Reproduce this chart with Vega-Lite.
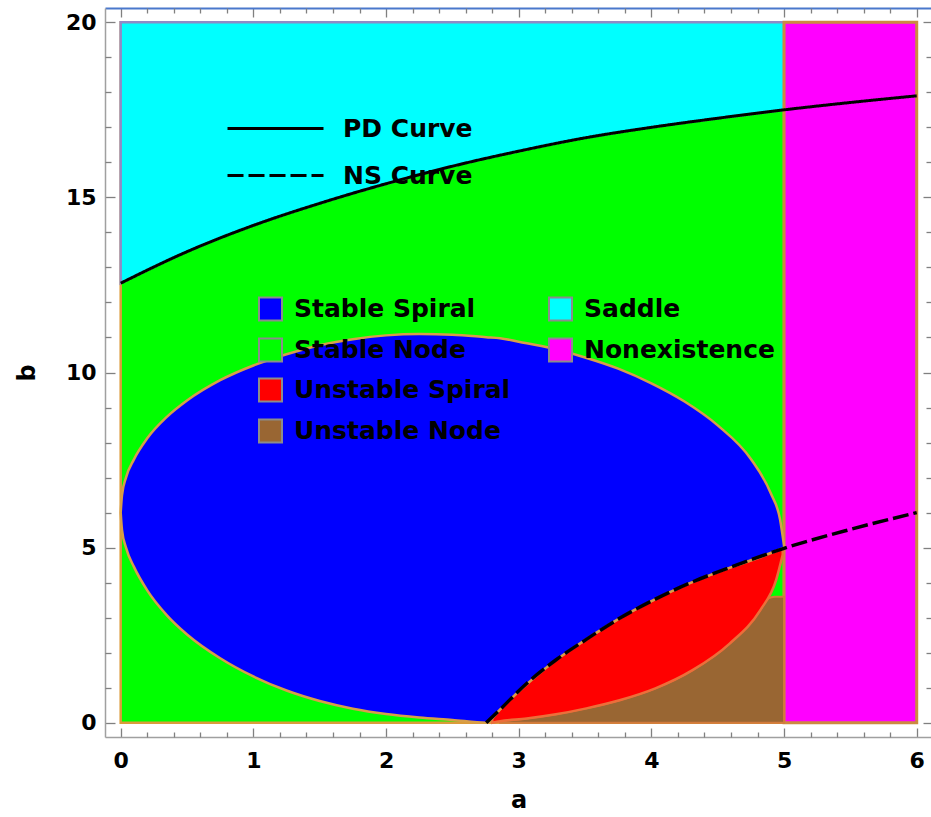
{
  "$schema": "https://vega.github.io/schema/vega-lite/v6.json",
  "width": 827,
  "height": 729,
  "autosize": {"type": "none"},
  "padding": {"left": 105, "top": 8, "right": 0, "bottom": 80},
  "background": "white",
  "config": {
    "view": {"stroke": null},
    "axis": {
      "grid": false,
      "labelFont": "DejaVu Sans",
      "labelFontWeight": "bold",
      "labelFontSize": 22,
      "labelColor": "black",
      "titleFont": "DejaVu Sans",
      "titleFontWeight": "bold",
      "titleFontSize": 24,
      "titleColor": "black",
      "tickColor": "#808080",
      "tickWidth": 1.3,
      "domainColor": "#a0a0a0",
      "domainWidth": 1.5
    },
    "legend": {
      "padding": 0,
      "labelFont": "DejaVu Sans",
      "labelFontWeight": "bold",
      "labelFontSize": 25,
      "labelColor": "black",
      "labelLimit": 400,
      "labelOffset": 11,
      "symbolType": "square",
      "symbolSize": 529,
      "symbolStrokeColor": "#8c8c8c",
      "symbolStrokeWidth": 2,
      "symbolOpacity": 1
    }
  },
  "resolve": {
    "scale": {"fill": "independent", "strokeDash": "independent"},
    "axis": {"x": "independent", "y": "independent"}
  },
  "layer": [
    {
      "data": {"values": [{"region": "Stable Node", "a0": 0, "a1": 5, "b0": 0, "b1": 20}]},
      "mark": {"type": "rect", "stroke": "#DB9B3B", "strokeWidth": 2.5},
      "encoding": {
        "x": {"field": "a0", "type": "quantitative",
              "scale": {"domain": [-0.1183, 6.1152], "nice": false, "zero": false},
              "axis": {"orient": "bottom", "values": [0, 1, 2, 3, 4, 5, 6], "format": "d", "title": "a",
                       "tickSize": -9, "labelPadding": 22, "titlePadding": 17}},
        "x2": {"field": "a1"},
        "y": {"field": "b0", "type": "quantitative",
              "scale": {"domain": [-0.408, 20.408], "nice": false, "zero": false},
              "axis": {"orient": "left", "values": [0, 5, 10, 15, 20], "format": "d", "title": "b",
                       "tickSize": -10, "labelPadding": 19, "titlePadding": 26}},
        "y2": {"field": "b1"},
        "fill": {"field": "region", "type": "nominal",
                 "scale": {"domain": ["Stable Node"], "range": ["#00FF00"]},
                 "legend": {"title": null, "orient": "none", "legendX": 153, "legendY": 329.5}}
      }
    },
    {
      "data": {"values": [
        {"region": "Saddle", "a": 0, "top": 20, "pd": 12.55},
        {"region": "Saddle", "a": 0.5, "top": 20, "pd": 13.45},
        {"region": "Saddle", "a": 1, "top": 20, "pd": 14.2},
        {"region": "Saddle", "a": 1.5, "top": 20, "pd": 14.83},
        {"region": "Saddle", "a": 2, "top": 20, "pd": 15.39},
        {"region": "Saddle", "a": 2.5, "top": 20, "pd": 15.89},
        {"region": "Saddle", "a": 3, "top": 20, "pd": 16.32},
        {"region": "Saddle", "a": 3.5, "top": 20, "pd": 16.7},
        {"region": "Saddle", "a": 4, "top": 20, "pd": 17.0},
        {"region": "Saddle", "a": 4.5, "top": 20, "pd": 17.26},
        {"region": "Saddle", "a": 5, "top": 20, "pd": 17.5}
      ]},
      "mark": {"type": "area", "interpolate": "monotone", "stroke": "#8F8AC6", "strokeWidth": 2.5, "opacity": 1},
      "encoding": {
        "x": {"field": "a", "type": "quantitative",
              "scale": {"domain": [-0.1183, 6.1152], "nice": false, "zero": false},
              "axis": {"orient": "bottom", "title": null, "labels": false, "domain": false, "tickSize": -5,
                       "values": [0.2, 0.4, 0.6, 0.8, 1.2, 1.4, 1.6, 1.8, 2.2, 2.4, 2.6, 2.8, 3.2, 3.4, 3.6, 3.8, 4.2, 4.4, 4.6, 4.8, 5.2, 5.4, 5.6, 5.8]}},
        "y": {"field": "top", "type": "quantitative",
              "scale": {"domain": [-0.408, 20.408], "nice": false, "zero": false},
              "axis": {"orient": "left", "title": null, "labels": false, "domain": false, "tickSize": -6,
                       "values": [1, 2, 3, 4, 6, 7, 8, 9, 11, 12, 13, 14, 16, 17, 18, 19]}},
        "y2": {"field": "pd"},
        "fill": {"field": "region", "type": "nominal",
                 "scale": {"domain": ["Saddle"], "range": ["#00FFFF"]},
                 "legend": {"title": null, "orient": "none", "legendX": 443, "legendY": 288.5}}
      }
    },
    {
      "data": {"values": [{"region": "Nonexistence", "a0": 5, "a1": 6, "b0": 0, "b1": 20}]},
      "mark": {"type": "rect", "stroke": "#CC8A40", "strokeWidth": 3},
      "encoding": {
        "x": {"field": "a0", "type": "quantitative",
              "scale": {"domain": [-0.1183, 6.1152], "nice": false, "zero": false},
              "axis": {"orient": "top", "title": null, "labels": false, "tickSize": -9,
                       "domainColor": "#4A78CC", "domainWidth": 2,
                       "values": [0, 1, 2, 3, 4, 5, 6]}},
        "x2": {"field": "a1"},
        "y": {"field": "b0", "type": "quantitative",
              "scale": {"domain": [-0.408, 20.408], "nice": false, "zero": false},
              "axis": {"orient": "right", "title": null, "labels": false, "domain": false, "tickSize": -9,
                       "values": [0, 5, 10, 15, 20]}},
        "y2": {"field": "b1"},
        "fill": {"field": "region", "type": "nominal",
                 "scale": {"domain": ["Nonexistence"], "range": ["#FF00FF"]},
                 "legend": {"title": null, "orient": "none", "legendX": 443, "legendY": 329.5}}
      }
    },
    {
      "data": {"values": [
        {"region": "Unstable Node", "a": 2.86, "top": 0.04, "base": 0},
        {"region": "Unstable Node", "a": 3.06, "top": 0.12, "base": 0},
        {"region": "Unstable Node", "a": 3.28, "top": 0.24, "base": 0},
        {"region": "Unstable Node", "a": 3.51, "top": 0.41, "base": 0},
        {"region": "Unstable Node", "a": 3.76, "top": 0.64, "base": 0},
        {"region": "Unstable Node", "a": 4.03, "top": 0.98, "base": 0},
        {"region": "Unstable Node", "a": 4.31, "top": 1.5, "base": 0},
        {"region": "Unstable Node", "a": 4.59, "top": 2.26, "base": 0},
        {"region": "Unstable Node", "a": 4.82, "top": 3.21, "base": 0},
        {"region": "Unstable Node", "a": 4.88, "top": 3.55, "base": 0},
        {"region": "Unstable Node", "a": 4.93, "top": 3.6, "base": 0},
        {"region": "Unstable Node", "a": 5.0, "top": 3.6, "base": 0}
      ]},
      "mark": {"type": "area", "interpolate": "monotone", "stroke": "#D27A3C", "strokeWidth": 2, "opacity": 1},
      "encoding": {
        "x": {"field": "a", "type": "quantitative",
              "scale": {"domain": [-0.1183, 6.1152], "nice": false, "zero": false},
              "axis": {"orient": "top", "title": null, "labels": false, "domain": false, "tickSize": -5,
                       "values": [0.2, 0.4, 0.6, 0.8, 1.2, 1.4, 1.6, 1.8, 2.2, 2.4, 2.6, 2.8, 3.2, 3.4, 3.6, 3.8, 4.2, 4.4, 4.6, 4.8, 5.2, 5.4, 5.6, 5.8]}},
        "y": {"field": "top", "type": "quantitative",
              "scale": {"domain": [-0.408, 20.408], "nice": false, "zero": false},
              "axis": {"orient": "right", "title": null, "labels": false, "domain": false, "tickSize": -6,
                       "values": [1, 2, 3, 4, 6, 7, 8, 9, 11, 12, 13, 14, 16, 17, 18, 19]}},
        "y2": {"field": "base"},
        "fill": {"field": "region", "type": "nominal",
                 "scale": {"domain": ["Unstable Node"], "range": ["#996633"]},
                 "legend": {"title": null, "orient": "none", "legendX": 153, "legendY": 410.5}}
      }
    },
    {
      "data": {"values": [
        {"region": "Unstable Spiral", "a": 2.8, "top": 0.15, "base": 0.0},
        {"region": "Unstable Spiral", "a": 2.86, "top": 0.38, "base": 0.04},
        {"region": "Unstable Spiral", "a": 3.06, "top": 1.12, "base": 0.12},
        {"region": "Unstable Spiral", "a": 3.28, "top": 1.79, "base": 0.24},
        {"region": "Unstable Spiral", "a": 3.51, "top": 2.38, "base": 0.41},
        {"region": "Unstable Spiral", "a": 3.76, "top": 2.98, "base": 0.64},
        {"region": "Unstable Spiral", "a": 4.03, "top": 3.53, "base": 0.98},
        {"region": "Unstable Spiral", "a": 4.31, "top": 4.02, "base": 1.5},
        {"region": "Unstable Spiral", "a": 4.59, "top": 4.43, "base": 2.26},
        {"region": "Unstable Spiral", "a": 4.82, "top": 4.72, "base": 3.21},
        {"region": "Unstable Spiral", "a": 4.94, "top": 4.9, "base": 4.07},
        {"region": "Unstable Spiral", "a": 4.99, "top": 4.98, "base": 4.8}
      ]},
      "mark": {"type": "area", "interpolate": "monotone", "stroke": "#EC6E3A", "strokeWidth": 2.5, "opacity": 1},
      "encoding": {
        "x": {"field": "a", "type": "quantitative",
              "scale": {"domain": [-0.1183, 6.1152], "nice": false, "zero": false}, "axis": null},
        "y": {"field": "top", "type": "quantitative",
              "scale": {"domain": [-0.408, 20.408], "nice": false, "zero": false}, "axis": null},
        "y2": {"field": "base"},
        "fill": {"field": "region", "type": "nominal",
                 "scale": {"domain": ["Unstable Spiral"], "range": ["#FF0000"]},
                 "legend": {"title": null, "orient": "none", "legendX": 153, "legendY": 369.5}}
      }
    },
    {
      "data": {"values": [
        {"region": "Stable Spiral", "a": 0, "top": 6.0, "base": 6.0},
        {"region": "Stable Spiral", "a": 0.01, "top": 6.5, "base": 5.5},
        {"region": "Stable Spiral", "a": 0.04, "top": 7.0, "base": 5.0},
        {"region": "Stable Spiral", "a": 0.1, "top": 7.52, "base": 4.45},
        {"region": "Stable Spiral", "a": 0.2, "top": 8.12, "base": 3.78},
        {"region": "Stable Spiral", "a": 0.35, "top": 8.74, "base": 3.06},
        {"region": "Stable Spiral", "a": 0.5, "top": 9.2, "base": 2.52},
        {"region": "Stable Spiral", "a": 0.75, "top": 9.78, "base": 1.84},
        {"region": "Stable Spiral", "a": 1.0, "top": 10.2, "base": 1.32},
        {"region": "Stable Spiral", "a": 1.25, "top": 10.52, "base": 0.92},
        {"region": "Stable Spiral", "a": 1.5, "top": 10.78, "base": 0.62},
        {"region": "Stable Spiral", "a": 1.75, "top": 10.95, "base": 0.4},
        {"region": "Stable Spiral", "a": 2.0, "top": 11.06, "base": 0.25},
        {"region": "Stable Spiral", "a": 2.25, "top": 11.1, "base": 0.15},
        {"region": "Stable Spiral", "a": 2.5, "top": 11.08, "base": 0.08},
        {"region": "Stable Spiral", "a": 2.755, "top": 11.01, "base": 0.0},
        {"region": "Stable Spiral", "a": 2.86, "top": 10.98, "base": 0.38},
        {"region": "Stable Spiral", "a": 3.0, "top": 10.88, "base": 0.89},
        {"region": "Stable Spiral", "a": 3.25, "top": 10.69, "base": 1.7},
        {"region": "Stable Spiral", "a": 3.5, "top": 10.43, "base": 2.36},
        {"region": "Stable Spiral", "a": 3.75, "top": 10.11, "base": 2.96},
        {"region": "Stable Spiral", "a": 4.0, "top": 9.69, "base": 3.47},
        {"region": "Stable Spiral", "a": 4.25, "top": 9.17, "base": 3.92},
        {"region": "Stable Spiral", "a": 4.5, "top": 8.49, "base": 4.3},
        {"region": "Stable Spiral", "a": 4.75, "top": 7.53, "base": 4.64},
        {"region": "Stable Spiral", "a": 4.9, "top": 6.55, "base": 4.85},
        {"region": "Stable Spiral", "a": 4.97, "top": 5.8, "base": 4.95},
        {"region": "Stable Spiral", "a": 5.0, "top": 5.05, "base": 5.0}
      ]},
      "mark": {"type": "area", "interpolate": "monotone", "stroke": "#D89E48", "strokeWidth": 2.5, "opacity": 1},
      "encoding": {
        "x": {"field": "a", "type": "quantitative",
              "scale": {"domain": [-0.1183, 6.1152], "nice": false, "zero": false}, "axis": null},
        "y": {"field": "top", "type": "quantitative",
              "scale": {"domain": [-0.408, 20.408], "nice": false, "zero": false}, "axis": null},
        "y2": {"field": "base"},
        "fill": {"field": "region", "type": "nominal",
                 "scale": {"domain": ["Stable Spiral"], "range": ["#0000FF"]},
                 "legend": {"title": null, "orient": "none", "legendX": 153, "legendY": 288.5}}
      }
    },
    {
      "data": {"values": [
        {"curve": "PD Curve", "a": 0, "b": 12.55},
        {"curve": "PD Curve", "a": 0.5, "b": 13.45},
        {"curve": "PD Curve", "a": 1, "b": 14.2},
        {"curve": "PD Curve", "a": 1.5, "b": 14.83},
        {"curve": "PD Curve", "a": 2, "b": 15.39},
        {"curve": "PD Curve", "a": 2.5, "b": 15.89},
        {"curve": "PD Curve", "a": 3, "b": 16.32},
        {"curve": "PD Curve", "a": 3.5, "b": 16.7},
        {"curve": "PD Curve", "a": 4, "b": 17.0},
        {"curve": "PD Curve", "a": 4.5, "b": 17.26},
        {"curve": "PD Curve", "a": 5, "b": 17.5},
        {"curve": "PD Curve", "a": 5.5, "b": 17.71},
        {"curve": "PD Curve", "a": 6, "b": 17.9}
      ]},
      "mark": {"type": "line", "color": "black", "strokeWidth": 3, "interpolate": "monotone"},
      "encoding": {
        "x": {"field": "a", "type": "quantitative",
              "scale": {"domain": [-0.1183, 6.1152], "nice": false, "zero": false}, "axis": null},
        "y": {"field": "b", "type": "quantitative",
              "scale": {"domain": [-0.408, 20.408], "nice": false, "zero": false}, "axis": null},
        "strokeDash": {"field": "curve", "type": "nominal",
                       "scale": {"domain": ["PD Curve"], "range": [[1, 0]]},
                       "legend": {"title": null, "orient": "none", "legendX": 121, "legendY": 71,
                                  "symbolType": "stroke", "symbolSize": 9216, "symbolStrokeColor": "black",
                                  "symbolStrokeWidth": 3, "labelOffset": 18}}
      }
    },
    {
      "data": {"values": [
        {"curve": "NS Curve", "a": 2.755, "b": 0},
        {"curve": "NS Curve", "a": 2.86, "b": 0.38},
        {"curve": "NS Curve", "a": 3.06, "b": 1.12},
        {"curve": "NS Curve", "a": 3.28, "b": 1.79},
        {"curve": "NS Curve", "a": 3.51, "b": 2.38},
        {"curve": "NS Curve", "a": 3.76, "b": 2.98},
        {"curve": "NS Curve", "a": 4.03, "b": 3.53},
        {"curve": "NS Curve", "a": 4.31, "b": 4.02},
        {"curve": "NS Curve", "a": 4.59, "b": 4.43},
        {"curve": "NS Curve", "a": 5.0, "b": 4.98},
        {"curve": "NS Curve", "a": 5.5, "b": 5.52},
        {"curve": "NS Curve", "a": 6.0, "b": 6.0}
      ]},
      "mark": {"type": "line", "color": "black", "strokeWidth": 3.5, "interpolate": "monotone"},
      "encoding": {
        "x": {"field": "a", "type": "quantitative",
              "scale": {"domain": [-0.1183, 6.1152], "nice": false, "zero": false}, "axis": null},
        "y": {"field": "b", "type": "quantitative",
              "scale": {"domain": [-0.408, 20.408], "nice": false, "zero": false}, "axis": null},
        "strokeDash": {"field": "curve", "type": "nominal",
                       "scale": {"domain": ["NS Curve"], "range": [[16, 5]]},
                       "legend": {"title": null, "orient": "none", "legendX": 121, "legendY": 118,
                                  "symbolType": "stroke", "symbolSize": 9216, "symbolStrokeColor": "black",
                                  "symbolStrokeWidth": 3, "labelOffset": 18}}
      }
    }
  ]
}
